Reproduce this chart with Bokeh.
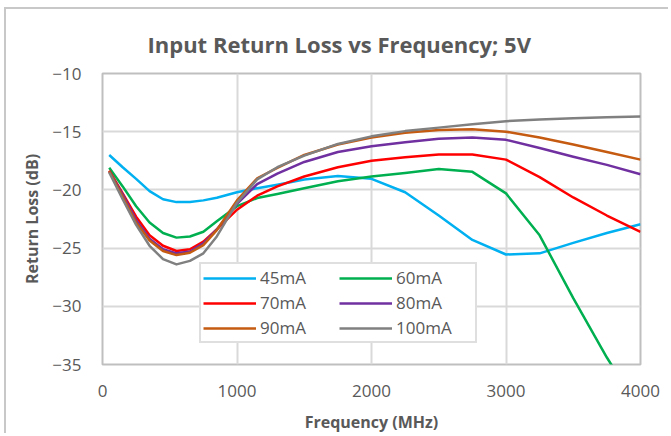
from bokeh.plotting import figure
from bokeh.embed import file_html
from bokeh.resources import INLINE
from bokeh.models import Title, FixedTicker

freq = [50, 150, 250, 350, 450, 550, 650, 750, 850, 1000, 1150, 1300, 1500,
        1750, 2000, 2250, 2500, 2750, 3000, 3250, 3500, 3750, 4000]

rl_45mA = [-17.0, -18.05, -19.05, -20.1, -20.8, -21.05, -21.03, -20.9, -20.68, -20.2,
           -19.85, -19.55, -19.1, -18.8, -19.05, -20.2, -22.2, -24.3, -25.55, -25.45,
           -24.55, -23.7, -22.95]
rl_60mA = [-18.1, -19.7, -21.4, -22.8, -23.7, -24.1, -24.0, -23.6, -22.7, -21.4,
           -20.7, -20.35, -19.85, -19.25, -18.85, -18.55, -18.2, -18.45, -20.3, -23.9,
           -29.3, -34.4, -39.0]
rl_70mA = [-18.35, -20.3, -22.3, -23.9, -24.8, -25.25, -25.1, -24.45, -23.4, -21.7,
           -20.5, -19.7, -18.85, -18.05, -17.5, -17.2, -16.95, -16.95, -17.4, -18.9,
           -20.65, -22.2, -23.6]
rl_80mA = [-18.4, -20.4, -22.6, -24.2, -25.1, -25.45, -25.3, -24.6, -23.4, -21.2,
           -19.5, -18.6, -17.6, -16.75, -16.25, -15.9, -15.6, -15.5, -15.7, -16.4,
           -17.15, -17.85, -18.65]
rl_90mA = [-18.4, -20.6, -22.8, -24.35, -25.25, -25.6, -25.4, -24.75, -23.45, -20.9,
           -19.0, -18.1, -17.0, -16.1, -15.5, -15.1, -14.85, -14.8, -15.0, -15.5,
           -16.1, -16.75, -17.4]
rl_100mA = [-18.5, -20.8, -23.0, -24.8, -25.95, -26.4, -26.1, -25.45, -24.0, -21.1,
            -19.1, -18.05, -17.05, -16.05, -15.4, -14.95, -14.65, -14.35, -14.1, -13.95,
            -13.85, -13.75, -13.7]

series_names = ["45mA", "60mA", "70mA", "80mA", "90mA", "100mA"]
series_values = [rl_45mA, rl_60mA, rl_70mA, rl_80mA, rl_90mA, rl_100mA]
series_colors = ["#00B0F0", "#00B050", "#FF0000", "#7030A0", "#C55A11", "#808080"]

x_ticks = [0, 1000, 2000, 3000, 4000]
y_ticks = [-35, -30, -25, -20, -15, -10]

FONT = "Open Sans"
TXT = "#595959"

p = figure(width=664, height=426, x_range=(0, 4000), y_range=(-35, -10),
           output_backend="svg", toolbar_location=None,
           min_border_left=96, min_border_right=30, min_border_top=64,
           min_border_bottom=70, title=None)

p.add_layout(Title(text="Input Return Loss vs Frequency; 5V", align="left",
                   offset=45, standoff=30, text_font=FONT, text_font_size="22px",
                   text_font_style="bold", text_color=TXT), "above")

for name, vals, col in zip(series_names, series_values, series_colors):
    p.line(freq, vals, line_color=col, line_width=2.5, line_join="round",
           legend_label=name)

p.xaxis.ticker = FixedTicker(ticks=x_ticks)
p.yaxis.ticker = FixedTicker(ticks=y_ticks)
for ax in (p.xaxis[0], p.yaxis[0]):
    ax.axis_line_color = None
    ax.major_tick_line_color = None
    ax.minor_tick_line_color = None
    ax.major_label_text_font = FONT
    ax.major_label_text_font_size = "17px"
    ax.major_label_text_color = TXT
    ax.axis_label_text_font = FONT
    ax.axis_label_text_font_size = "16px"
    ax.axis_label_text_font_style = "bold"
    ax.axis_label_text_color = TXT
p.xaxis.axis_label = "Frequency (MHz)"
p.yaxis.axis_label = "Return Loss (dB)"
p.xaxis.major_label_standoff = 14
p.yaxis.major_label_standoff = 15
p.xaxis.axis_label_standoff = 11
p.yaxis.axis_label_standoff = 6

p.xgrid.ticker = FixedTicker(ticks=x_ticks)
p.ygrid.ticker = FixedTicker(ticks=y_ticks)
p.grid.grid_line_color = "#D9D9D9"
p.grid.grid_line_width = 2
p.outline_line_color = "#BFBFBF"
p.outline_line_width = 2

lg = p.legend[0]
lg.orientation = "horizontal"
lg.ncols = 2
lg.location = (97, 21)
lg.label_text_font = FONT
lg.label_text_font_size = "17px"
lg.label_text_color = TXT
lg.glyph_width = 53
lg.glyph_height = 20
lg.label_height = 20
lg.label_width = 77
lg.label_standoff = 4
lg.spacing = 2
lg.padding = 2
lg.margin = 0
lg.border_line_color = "#BFBFBF"
lg.border_line_width = 2
lg.background_fill_color = "white"
lg.background_fill_alpha = 1

p.styles = {"margin-left": "4px", "margin-top": "7px",
            "border-top": "2px solid #C8C8C8", "border-left": "2px solid #C8C8C8"}

open("out.html", "w").write(file_html(p, INLINE))
